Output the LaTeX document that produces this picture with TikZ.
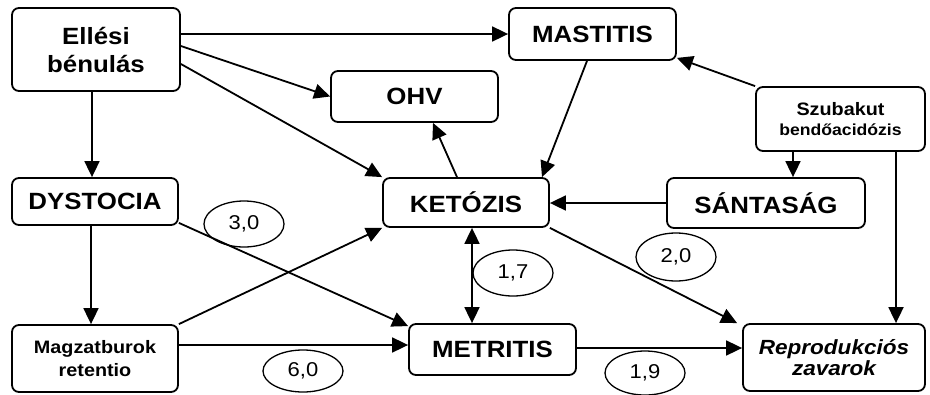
\documentclass[tikz,border=0pt]{standalone}
\usepackage{fontspec}
\setmainfont{Liberation Sans}[FakeStretch=1.1]
\usetikzlibrary{arrows.meta,shapes.geometric}
\tikzset{
  box/.style={draw, line width=1.8pt, rounded corners=7pt, inner sep=0pt, align=center},
  big/.style={box, font=\bfseries\fontsize{23.5}{28}\selectfont},
  small/.style={box, font=\bfseries\fontsize{18}{23}\selectfont},
  oval/.style={draw, ellipse, line width=1.3pt, inner sep=0pt, minimum width=80pt, font=\fontsize{20}{22}\selectfont},
  conn/.style={line width=1.8pt, -{Triangle[length=16pt,width=15pt]}},
  both/.style={line width=1.8pt, {Triangle[length=16pt,width=15pt]}-{Triangle[length=16pt,width=15pt]}}
}
\begin{document}
\begin{tikzpicture}[x=1pt,y=-1pt]
\useasboundingbox (0,0) rectangle (930,394);
\fill[white] (0,0) rectangle (930,394);
% boxes
\node[big, minimum width=168pt, minimum height=83pt] (ell) at (96,49.5) {Ellési\\bénulás};
\node[big, minimum width=167pt, minimum height=51pt] (ohv) at (414.5,96.5) {OHV};
\node[big, minimum width=167pt, minimum height=52pt] (mast) at (592.5,34) {MASTITIS};
\node[big, minimum width=166pt, minimum height=47pt] (dys) at (95,201.5) {DYSTOCIA};
\node[big, minimum width=166pt, minimum height=49pt] (ket) at (466,202.5) {KETÓZIS};
\node[box, minimum width=169pt, minimum height=64pt, font=\bfseries\fontsize{18}{20}\selectfont] (szub) at (840.5,119) {Szubakut\\{\fontsize{16}{20}\selectfont bendőacidózis}};
\node[big, minimum width=198pt, minimum height=50pt] (sant) at (766,203) {SÁNTASÁG};
\node[small, minimum width=166pt, minimum height=67pt] (mag) at (95,358.5) {Magzatburok\\retentio};
\node[box, minimum width=182pt, minimum height=67pt, font=\bfseries\itshape\fontsize{20.5}{21}\selectfont] (rep) at (834,357.5) {Reprodukciós\\zavarok};
\node[big, minimum width=167pt, minimum height=51pt] (met) at (492.5,349.5) {METRITIS};
% ovals
\node[oval, minimum height=46pt] (e30) at (244,224) {3,0};
\node[oval, minimum height=42pt] (e60) at (303,371) {6,0};
\node[oval, minimum height=46pt] (e17) at (513,273) {1,7};
\node[oval, minimum height=48pt] (e20) at (676,257) {2,0};
\node[oval, minimum height=44pt] (e19) at (645,373) {1,9};
% connectors
\draw[conn] (ell.east |- mast.west) -- (mast.west);
\draw[conn] ([yshift=3.5pt]ell.east) -- (ohv.west);
\draw[conn] ([yshift=-14.5pt]ell.east) -- (ket.north west);
\draw[conn] ([xshift=-4pt]ell.south) -- ([xshift=-4pt]ell.south |- dys.north);
\draw[conn] ([xshift=-9pt]ket.north) -- ([xshift=18.5pt]ohv.south);
\draw[conn] ([xshift=-5.5pt]mast.south) -- ([xshift=76pt]ket.north);
\draw[conn] (szub.north west) -- ([yshift=3pt]mast.south east);
\draw[conn] ([xshift=-47.5pt]szub.south) -- ([xshift=-47.5pt]szub.south |- sant.north);
\draw[conn] ([xshift=55.5pt]szub.south) -- ([xshift=55.5pt]szub.south |- rep.north);
\draw[conn] (sant.west) -- (sant.west -| ket.east);
\draw[conn] (ket.south east) -- ([xshift=-5pt]rep.north west);
\draw[both] ([xshift=6pt]ket.south) -- ([xshift=6pt]ket.south |- met.north);
\draw[conn] ([yshift=1.5pt]met.east) -- ([yshift=1.5pt]met.east -| rep.west);
\draw[conn] ([xshift=-4pt]dys.south) -- ([xshift=-4pt]dys.south |- mag.north);
\draw[conn] ([yshift=3pt]dys.south east) -- ([yshift=-3pt]met.north west);
\draw[conn] (mag.north east) -- (ket.south west);
\draw[conn] ([yshift=13.5pt]mag.east) -- ([yshift=13.5pt]mag.east -| met.west);
\end{tikzpicture}
\end{document}
